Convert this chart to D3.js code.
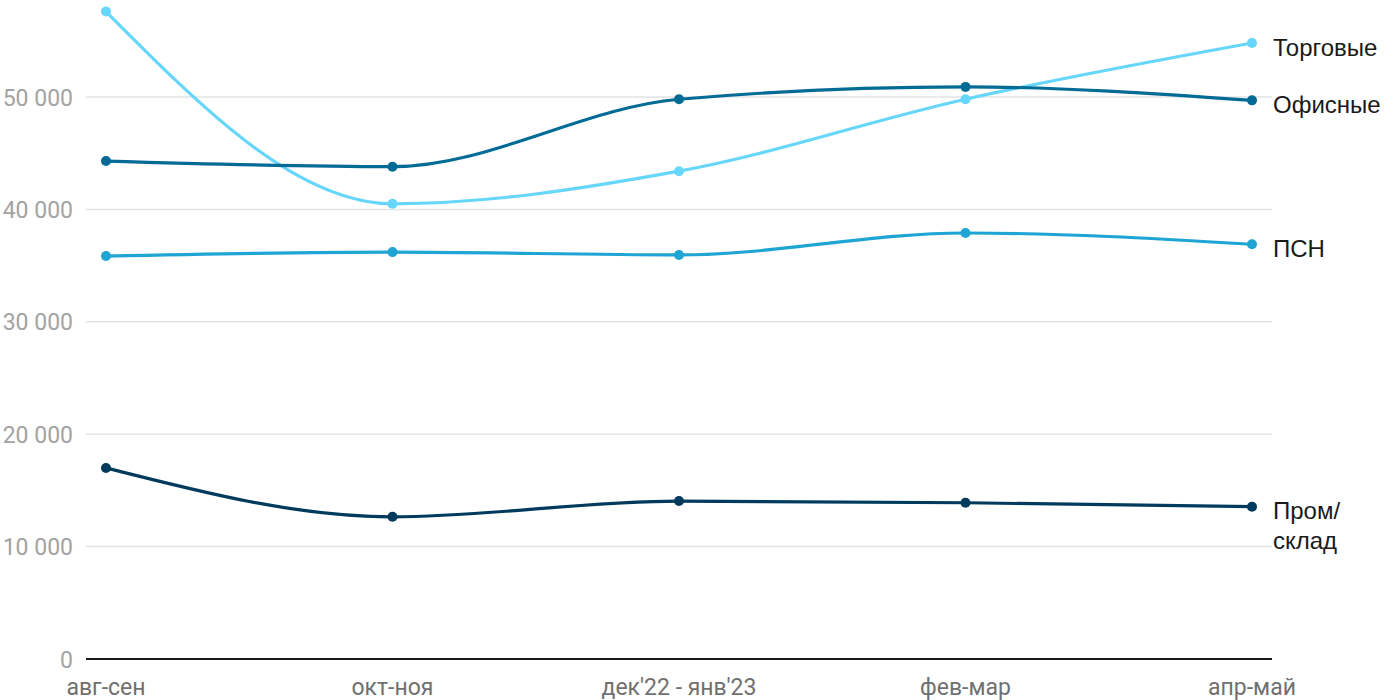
<!DOCTYPE html>
<html><head><meta charset="utf-8">
<script src="https://cdn.jsdelivr.net/npm/d3@7"></script>
<style>body{margin:0;background:#fff;}svg{display:block;font-family:Roboto,sans-serif;}</style>
</head><body>
<svg id="c" width="1400" height="700"></svg>
<script>
const categories = ["авг-сен","окт-ноя","дек'22 - янв'23","фев-мар","апр-май"];
const seriesNames = ["Торговые","Офисные","ПСН","Пром/склад"];
const torgovye = [57600, 40500, 43400, 49800, 54800];
const ofisnye = [44300, 43800, 49800, 50900, 49700];
const psn = [35850, 36200, 35950, 37900, 36900];
const prom = [17000, 12650, 14050, 13900, 13550];
const yTicks = [0, 10000, 20000, 30000, 40000, 50000];
const colors = ["#66d6fb", "#006b95", "#1ea5d4", "#003a5c"];
const labelLines = [["Торговые"],["Офисные"],["ПСН"],["Пром/","склад"]];

const svg = d3.select("#c");
const x = d3.scalePoint().domain(categories).range([106, 1252]);
const y = d3.scaleLinear().domain([0, 50000]).range([659, 97]);
const fmt = v => d3.format(",")(v).replace(/,/g, " ");

svg.append("g").selectAll("line").data(yTicks.filter(d=>d>0)).join("line")
  .attr("x1", 86).attr("x2", 1272).attr("y1", d=>y(d)).attr("y2", d=>y(d))
  .attr("stroke", "#e3e3e3").attr("stroke-width", 1.5);
svg.append("g").selectAll("text").data(yTicks).join("text")
  .attr("x", 73).attr("y", d=>y(d)+8.5).attr("text-anchor","end")
  .attr("font-size", 23).attr("fill", "#a3a3a3").text(d=>fmt(d));
svg.append("line").attr("x1",86).attr("x2",1272).attr("y1",y(0)).attr("y2",y(0))
  .attr("stroke","#1a1a1a").attr("stroke-width",2);
svg.append("g").selectAll("text").data(categories).join("text")
  .attr("x", d=>x(d)).attr("y", 695).attr("text-anchor","middle")
  .attr("font-size", 23).attr("fill", "#707070").text(d=>d);

const all = [torgovye, ofisnye, psn, prom];
const line = d3.line().x((d,i)=>x(categories[i])).y(d=>y(d)).curve(d3.curveMonotoneX);
const order = [0,3,2,1];
order.forEach(si=>{
  const vals = all[si];
  const g = svg.append("g");
  g.append("path").attr("d", line(vals)).attr("fill","none").attr("stroke",colors[si]).attr("stroke-width",3.2);
  g.selectAll("circle").data(vals).join("circle")
    .attr("cx",(d,i)=>x(categories[i])).attr("cy",d=>y(d)).attr("r",5).attr("fill",colors[si]);
  const y0 = y(vals[vals.length-1]) + 12.5;
  const t = g.append("text").attr("font-family","'Liberation Sans',Arial,sans-serif")
    .attr("font-size", 24).attr("fill","#1a1a1a");
  labelLines[si].forEach((s,k)=>t.append("tspan").attr("x",1273).attr("y", y0 + k*30).text(s));
});
</script>
</body></html>
